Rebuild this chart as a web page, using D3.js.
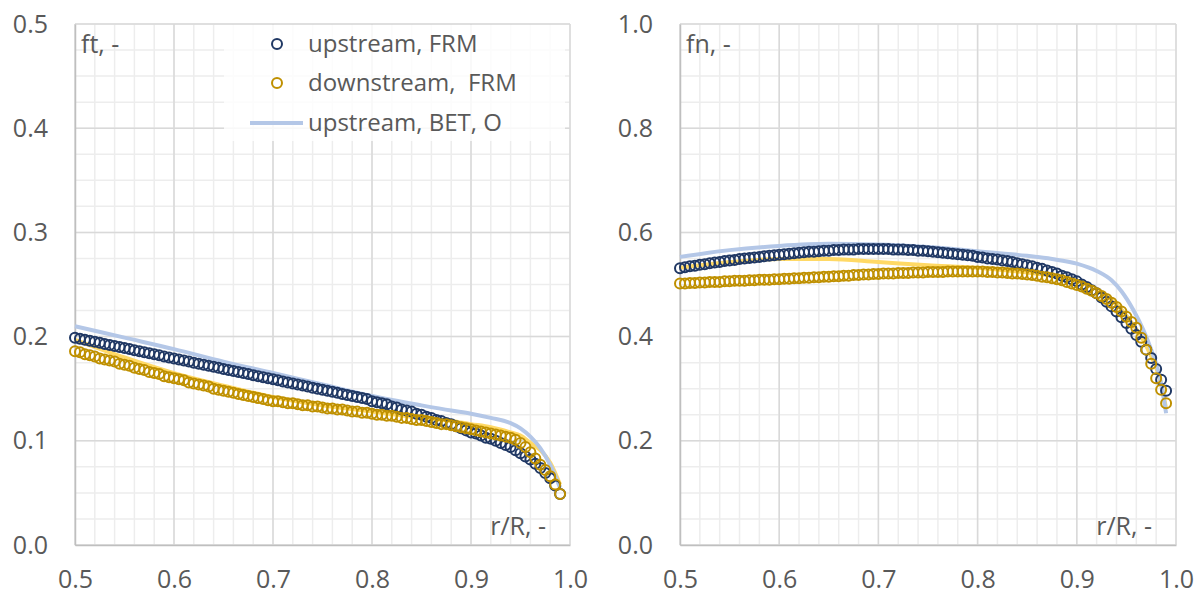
<!DOCTYPE html>
<html><head><meta charset="utf-8">
<script src="https://cdn.jsdelivr.net/npm/d3@7"></script>
<style>
body{margin:0;background:#fff}
svg{display:block}
text{font-family:"Open Sans",sans-serif;fill:#595959}
</style>
</head><body><svg id="c" width="1202" height="595"></svg>
<script>
// ---- data ----
const rR = [
0.500,0.505,0.510,0.515,0.520,0.525,0.530,0.535,0.540,0.545,
0.550,0.555,0.560,0.565,0.570,0.575,0.580,0.585,0.590,0.595,
0.600,0.605,0.610,0.615,0.620,0.625,0.630,0.635,0.640,0.645,
0.650,0.655,0.660,0.665,0.670,0.675,0.680,0.685,0.690,0.695,
0.700,0.705,0.710,0.715,0.720,0.725,0.730,0.735,0.740,0.745,
0.750,0.755,0.760,0.765,0.770,0.775,0.780,0.785,0.790,0.795,
0.800,0.805,0.810,0.815,0.820,0.825,0.830,0.835,0.840,0.845,
0.850,0.855,0.860,0.865,0.870,0.875,0.880,0.885,0.890,0.895,
0.900,0.905,0.910,0.915,0.920,0.925,0.930,0.935,0.940,0.945,
0.950,0.955,0.960,0.965,0.970,0.975,0.980,0.985,0.990];

const ftUpFRM = [
0.199,0.198,0.197,0.196,0.195,0.194,0.193,0.192,0.191,0.190,
0.189,0.188,0.187,0.186,0.185,0.184,0.183,0.182,0.181,0.180,
0.179,0.178,0.177,0.176,0.175,0.174,0.173,0.172,0.171,0.170,
0.169,0.168,0.167,0.166,0.165,0.164,0.163,0.162,0.161,0.160,
0.159,0.158,0.157,0.156,0.155,0.154,0.153,0.152,0.151,0.150,
0.149,0.148,0.147,0.146,0.145,0.144,0.143,0.142,0.141,0.140,
0.138,0.137,0.136,0.135,0.133,0.132,0.130,0.129,0.128,0.126,
0.125,0.123,0.122,0.120,0.119,0.117,0.116,0.114,0.112,0.110,
0.108,0.107,0.105,0.103,0.102,0.100,0.098,0.096,0.094,0.091,
0.088,0.085,0.082,0.078,0.074,0.069,0.064,0.057,0.049];

const ftDnFRM = [
0.186,0.185,0.183,0.182,0.181,0.179,0.178,0.177,0.176,0.174,
0.173,0.172,0.170,0.169,0.168,0.166,0.165,0.164,0.162,0.161,
0.160,0.159,0.158,0.156,0.155,0.154,0.153,0.152,0.150,0.149,
0.148,0.147,0.146,0.145,0.144,0.143,0.142,0.141,0.140,0.139,
0.138,0.138,0.137,0.136,0.136,0.135,0.134,0.134,0.133,0.133,
0.132,0.131,0.131,0.130,0.130,0.129,0.128,0.128,0.127,0.127,
0.126,0.125,0.125,0.124,0.124,0.123,0.122,0.122,0.121,0.120,
0.120,0.119,0.118,0.117,0.116,0.116,0.115,0.114,0.113,0.112,
0.111,0.110,0.109,0.108,0.107,0.106,0.105,0.104,0.103,0.101,
0.098,0.094,0.089,0.083,0.077,0.072,0.066,0.058,0.049];

const fnUpFRM = [
0.531,0.533,0.535,0.536,0.538,0.539,0.541,0.542,0.543,0.545,
0.546,0.547,0.549,0.550,0.551,0.552,0.553,0.554,0.555,0.556,
0.557,0.558,0.559,0.560,0.561,0.562,0.563,0.563,0.564,0.565,
0.565,0.566,0.566,0.567,0.567,0.567,0.568,0.568,0.568,0.568,
0.568,0.568,0.568,0.567,0.567,0.567,0.566,0.566,0.565,0.565,
0.564,0.563,0.562,0.561,0.560,0.559,0.558,0.557,0.556,0.555,
0.553,0.552,0.550,0.549,0.548,0.546,0.545,0.543,0.541,0.539,
0.537,0.535,0.532,0.530,0.527,0.524,0.521,0.517,0.514,0.510,
0.506,0.500,0.495,0.489,0.483,0.475,0.467,0.458,0.448,0.437,
0.426,0.415,0.403,0.390,0.375,0.359,0.338,0.317,0.296];

const fnDnFRM = [
0.502,0.502,0.503,0.503,0.504,0.504,0.505,0.505,0.505,0.506,
0.506,0.507,0.507,0.507,0.508,0.508,0.509,0.509,0.509,0.510,
0.510,0.511,0.511,0.512,0.512,0.513,0.513,0.514,0.514,0.515,
0.515,0.516,0.516,0.517,0.517,0.518,0.518,0.519,0.519,0.520,
0.520,0.521,0.521,0.521,0.522,0.522,0.522,0.523,0.523,0.523,
0.524,0.524,0.524,0.524,0.525,0.525,0.525,0.525,0.525,0.525,
0.525,0.525,0.524,0.524,0.523,0.523,0.522,0.521,0.521,0.520,
0.519,0.518,0.517,0.515,0.514,0.512,0.510,0.508,0.505,0.502,
0.499,0.496,0.492,0.488,0.483,0.478,0.472,0.465,0.457,0.448,
0.438,0.428,0.417,0.398,0.375,0.348,0.320,0.298,0.272];

const ftBetX  = [0.5,0.55,0.6,0.65,0.7,0.75,0.8,0.85,0.88,0.9,0.92,0.94,0.95,0.96,0.97,0.98,0.99];
const ftUpBET = [0.210,0.199,0.188,0.176,0.165,0.154,0.143,0.134,0.129,0.126,0.122,0.117,0.112,0.104,0.093,0.077,0.055];
const ftDnBET = [0.197,0.180,0.165,0.153,0.142,0.134,0.128,0.122,0.119,0.116,0.113,0.108,0.105,0.098,0.091,0.079,0.058];

const fnBetX  = [0.5,0.55,0.6,0.65,0.7,0.75,0.8,0.85,0.875,0.9,0.92,0.935,0.945,0.957,0.967,0.975,0.982,0.986,0.99];
const fnUpBET = [0.553,0.566,0.574,0.578,0.577,0.572,0.564,0.555,0.549,0.540,0.526,0.508,0.487,0.451,0.413,0.375,0.335,0.300,0.253];
const fnDnBET = [0.532,0.543,0.549,0.549,0.543,0.537,0.532,0.523,0.517,0.508,0.491,0.470,0.452,0.422,0.393,0.362,0.330,0.300,0.262];

const xTicks = [0.5,0.6,0.7,0.8,0.9,1.0];
const ftTicks = [0.0,0.1,0.2,0.3,0.4,0.5];
const fnTicks = [0.0,0.2,0.4,0.6,0.8,1.0];
const legendLabels = ["upstream, FRM","downstream,  FRM","upstream, BET, O"];

// ---- styles ----
const C_UP = "#203864", C_DN = "#BF9000", C_UPL = "#B4C7E7", C_DNL = "#FFD966";
const svg = d3.select("#c");
const TOP = 24, BOT = 545, FS = 25;

function panel(o){
  const x = d3.scaleLinear().domain([0.5,1.0]).range([o.x0,o.x1]);
  const y = d3.scaleLinear().domain([0,o.ymax]).range([BOT,TOP]);
  const g = svg.append("g");
  const xm = d3.range(0.5,1.0001,0.02), ym = d3.range(0,o.ymax*1.0001,o.ymax/20);
  g.selectAll(".xm").data(xm).join("line").attr("x1",d=>x(d)).attr("x2",d=>x(d)).attr("y1",TOP).attr("y2",BOT)
    .attr("stroke","#EDEDED").attr("stroke-width",1.5);
  g.selectAll(".ym").data(ym).join("line").attr("y1",d=>y(d)).attr("y2",d=>y(d)).attr("x1",o.x0).attr("x2",o.x1)
    .attr("stroke","#EDEDED").attr("stroke-width",1.5);
  g.selectAll(".xM").data(xTicks).join("line").attr("x1",d=>x(d)).attr("x2",d=>x(d)).attr("y1",TOP).attr("y2",BOT)
    .attr("stroke","#D9D9D9").attr("stroke-width",1.5);
  g.selectAll(".yM").data(o.yTicks).join("line").attr("y1",d=>y(d)).attr("y2",d=>y(d)).attr("x1",o.x0).attr("x2",o.x1)
    .attr("stroke","#D9D9D9").attr("stroke-width",1.5);
  const ax = g.append("g").attr("transform",`translate(0,${BOT})`)
    .call(d3.axisBottom(x).tickValues(xTicks).tickFormat(d3.format(".1f")).tickSize(0).tickPadding(25));
  ax.select(".domain").attr("stroke","#BFBFBF").attr("stroke-width",1.5);
  const ay = g.append("g").attr("transform",`translate(${o.x0},0)`)
    .call(d3.axisLeft(y).tickValues(o.yTicks).tickFormat(d3.format(".1f")).tickSize(0).tickPadding(27));
  ay.select(".domain").attr("stroke","#BFBFBF").attr("stroke-width",1.5);
  g.selectAll(".tick text").attr("font-size",FS).attr("font-family","'Open Sans',sans-serif").attr("fill","#595959");
  const line = d3.line().x(d=>x(d[0])).y(d=>y(d[1])).curve(d3.curveMonotoneX);
  g.append("path").datum(d3.zip(o.betX,o.dnBET)).attr("d",line).attr("fill","none").attr("stroke",C_DNL).attr("stroke-width",4);
  g.append("path").datum(d3.zip(o.betX,o.upBET)).attr("d",line).attr("fill","none").attr("stroke",C_UPL).attr("stroke-width",4);
  g.append("g").selectAll("circle").data(d3.zip(rR,o.up)).join("circle")
    .attr("cx",d=>x(d[0])).attr("cy",d=>y(d[1])).attr("r",5).attr("fill","none").attr("stroke",C_UP).attr("stroke-width",2);
  g.append("g").selectAll("circle").data(d3.zip(rR,o.dn)).join("circle")
    .attr("cx",d=>x(d[0])).attr("cy",d=>y(d[1])).attr("r",5).attr("fill","none").attr("stroke",C_DN).attr("stroke-width",2);
  g.append("text").attr("x",o.x0+6).attr("y",53).attr("font-size",FS).text(o.yLabel);
  g.append("text").attr("x",o.x1-24).attr("y",535).attr("text-anchor","end").attr("font-size",FS).text("r/R, -");
  return {x,y,g};
}

panel({x0:75,x1:570,ymax:0.5,yTicks:ftTicks,up:ftUpFRM,dn:ftDnFRM,betX:ftBetX,upBET:ftUpBET,dnBET:ftDnBET,yLabel:"ft, -"});
panel({x0:680,x1:1176,ymax:1.0,yTicks:fnTicks,up:fnUpFRM,dn:fnDnFRM,betX:fnBetX,upBET:fnUpBET,dnBET:fnDnBET,yLabel:"fn, -"});

// legend (left panel)
const lg = svg.append("g");
lg.append("rect").attr("x",224).attr("y",25).attr("width",341).attr("height",116).attr("fill","#fff").attr("fill-opacity",0.8);
const rows = [44,83,123];
lg.append("circle").attr("cx",277).attr("cy",rows[0]).attr("r",5).attr("fill","none").attr("stroke",C_UP).attr("stroke-width",2);
lg.append("circle").attr("cx",277).attr("cy",rows[1]).attr("r",5).attr("fill","none").attr("stroke",C_DN).attr("stroke-width",2);
lg.append("line").attr("x1",250).attr("x2",303).attr("y1",rows[2]).attr("y2",rows[2]).attr("stroke",C_UPL).attr("stroke-width",4);
lg.selectAll("text").data(legendLabels).join("text").attr("x",308).attr("y",(d,i)=>rows[i]).attr("dy","0.35em")
  .attr("font-size",24).style("white-space","pre").attr("xml:space","preserve").text(d=>d);
</script>
</body></html>
